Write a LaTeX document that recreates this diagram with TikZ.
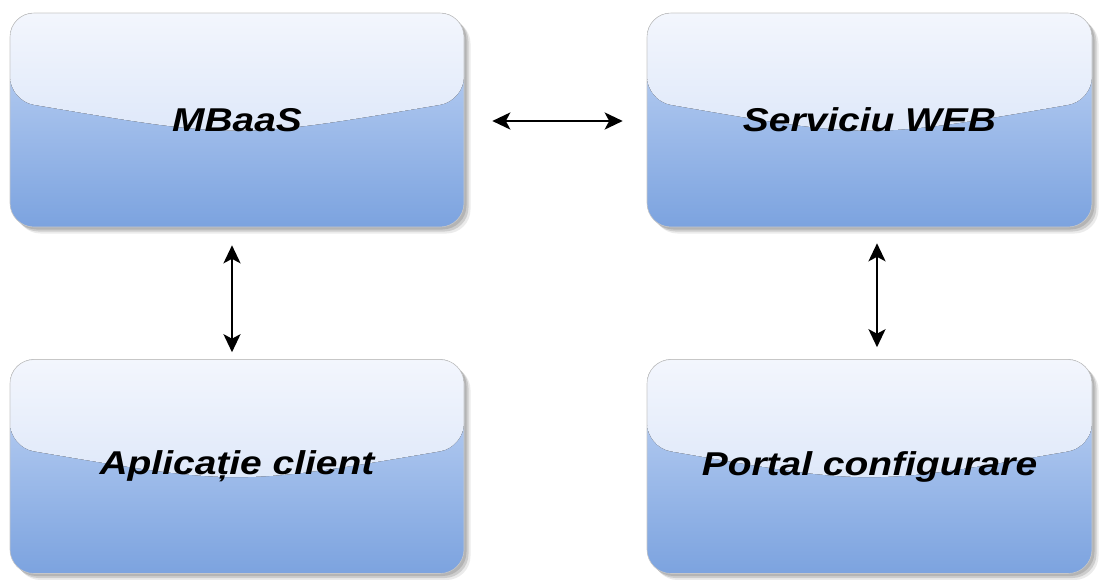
\documentclass[tikz,border=0pt]{standalone}
\usepackage{fontspec}
\setmainfont{Liberation Sans}
\usetikzlibrary{arrows.meta,shadows,calc}
\definecolor{lowTop}{RGB}{196,215,246}
\definecolor{lowBot}{RGB}{124,163,223}
\definecolor{hiTop}{RGB}{243,246,253}
\definecolor{hiBot}{RGB}{206,221,246}
\newcommand\lbl[1]{\scalebox{1.18}[1]{\bfseries\itshape #1}}
\tikzset{
  glassbox/.style={rounded corners=24pt, minimum width=454pt, minimum height=214pt,
    top color=lowTop, bottom color=lowBot, draw=black!22, line width=0.6pt,
    font=\fontsize{33pt}{38pt}\selectfont, inner sep=0pt,
    general shadow={shadow xshift=6.5pt, shadow yshift=-6.5pt, fill=black, opacity=0.08},
    general shadow={shadow xshift=4.5pt, shadow yshift=-4.5pt, fill=black, opacity=0.13},
    general shadow={shadow xshift=2.5pt, shadow yshift=-2.5pt, fill=black, opacity=0.12},
    path picture={
      \fill[top color=hiTop, bottom color=hiBot]
        let \p1=(path picture bounding box.north west), \p2=(path picture bounding box.south east) in
        (\x1,\y1) -- (\x2,\y1) -- (\x2,{\y1+0.41*(\y2-\y1)})
        .. controls ({0.5*(\x1+\x2)},{\y1+0.59*(\y2-\y1)}) .. (\x1,{\y1+0.41*(\y2-\y1)}) -- cycle;
    }},
  tipA/.tip={Stealth[length=18pt,width=17pt,inset=4.5pt]},
  dbl/.style={tipA-tipA, line width=2.5pt, black}
}
\begin{document}
\begin{tikzpicture}[x=1pt,y=-1pt]
\useasboundingbox (0,0) rectangle (1099,579);
\node[glassbox] (mbaas) at (237,120) {\lbl{MBaaS}};
\node[glassbox, minimum width=445pt] (web) at (869.5,120) {\lbl{Serviciu WEB}};
\node[glassbox] (app) at (237,466.5) {\lbl{Aplicație client}};
\node[glassbox, minimum width=445pt] (portal) at (869.5,466.5) {\lbl{Portal configurare}};
\draw[dbl] ([xshift=28pt,yshift=-1pt]mbaas.east) -- ([xshift=-24pt,yshift=-1pt]web.west);
\draw[dbl] ([xshift=-5pt,yshift=-18pt]mbaas.south) -- ([xshift=-5pt,yshift=7pt]app.north);
\draw[dbl] ([xshift=7.5pt,yshift=-16pt]web.south) -- ([xshift=7.5pt,yshift=12pt]portal.north);
\end{tikzpicture}
\end{document}
